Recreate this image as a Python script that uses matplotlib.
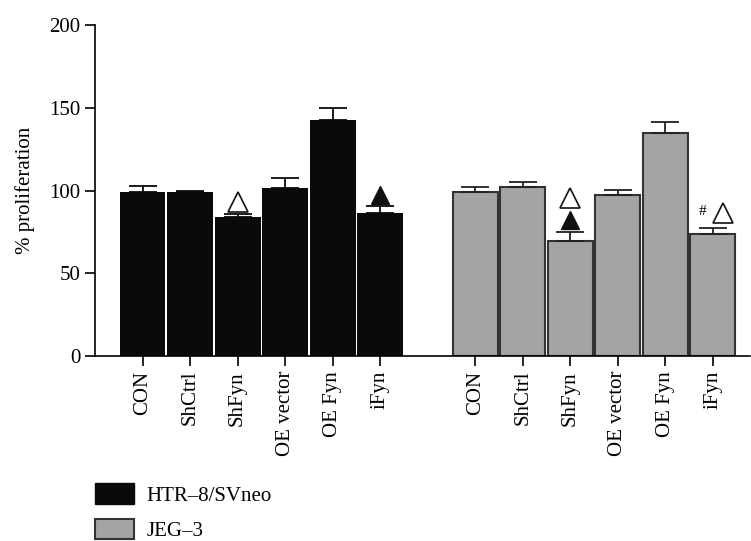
import numpy as np
import matplotlib.pyplot as plt
from matplotlib.patches import Patch

plt.rcParams['font.family'] = ['Liberation Serif', 'DejaVu Serif']

categories = ['CON', 'ShCtrl', 'ShFyn', 'OE vector', 'OE Fyn', 'iFyn']
htr_vals = [99, 99, 84.2, 101.6, 143, 86.2]
htr_err = [3.5, 0.8, 1.7, 6.3, 7.0, 4.4]
jeg_vals = [98.9, 101.9, 69.6, 97.1, 134.8, 73.7]
jeg_err = [3.2, 3.4, 5.3, 3.4, 6.5, 3.8]
series = ['HTR–8/SVneo', 'JEG–3']

# significance marks: index -> symbols stacked from bottom
htr_marks = {2: ['open'], 5: ['filled']}
jeg_marks = {2: ['filled', 'open'], 5: ['hashopen']}

fig = plt.figure(figsize=(7.51, 5.41), dpi=100)
ax = fig.add_axes([0.1265, 0.3425, 0.872, 0.6105])

x1 = np.arange(len(categories))
x2 = x1 + len(categories) + 1

ax.bar(x1, htr_vals, width=0.965, color='#0a0a0a', linewidth=0)
ax.errorbar(x1, htr_vals, yerr=[np.zeros(6), htr_err], fmt='none', ecolor='#0a0a0a',
            elinewidth=1.3, capsize=10, capthick=1.3)
ax.bar(x2, jeg_vals, width=0.95, color='#a4a3a6', edgecolor='#333333', linewidth=1.5)
ax.errorbar(x2, jeg_vals, yerr=[np.zeros(6), jeg_err], fmt='none', ecolor='#222222',
            elinewidth=1.3, capsize=10, capthick=1.3)


def draw_marks(xs, vals, errs, marks):
    for i, syms in marks.items():
        base = vals[i] + errs[i]
        for k, s in enumerate(syms):
            yy = base + 7 + k * 13.5
            if s == 'filled':
                ax.plot(xs[i], yy, marker='^', ms=13, color='#111111', mec='#111111', clip_on=False)
            elif s == 'open':
                ax.plot(xs[i], yy, marker='^', ms=14, mfc='white', mec='#111111', mew=1.2, clip_on=False)
            else:
                ax.plot(xs[i] + 0.22, yy + 2, marker='^', ms=14, mfc='white', mec='#111111', mew=1.2, clip_on=False)
                ax.text(xs[i] - 0.22, yy + 3, '#', ha='center', va='center', fontsize=11)


draw_marks(x1, htr_vals, htr_err, htr_marks)
draw_marks(x2, jeg_vals, jeg_err, jeg_marks)

ax.set_xlim(-1, 12.78)
ax.set_ylim(0, 200)
ax.set_yticks([0, 50, 100, 150, 200])
ax.set_xticks(np.concatenate([x1, x2]))
ax.set_xticklabels(categories + categories, rotation=90, fontsize=15)
ax.tick_params(axis='y', labelsize=15, length=7, width=1.2, direction='out')
ax.tick_params(axis='x', length=7, width=1.2, direction='out', pad=4)
ax.set_ylabel('% proliferation', fontsize=15, labelpad=10)
ax.spines['top'].set_visible(False)
ax.spines['right'].set_visible(False)
ax.spines['left'].set_linewidth(1.2)
ax.spines['bottom'].set_linewidth(1.2)

handles = [Patch(facecolor='#0a0a0a', edgecolor='#0a0a0a'),
           Patch(facecolor='#a4a3a6', edgecolor='#333333', linewidth=1.5)]
fig.legend(handles, series, loc='lower left', bbox_to_anchor=(0.101, -0.035), frameon=False,
           fontsize=15, handlelength=1.9, handleheight=1.15, labelspacing=0.62, handletextpad=0.6)

fig.savefig('out.png', dpi=100)
